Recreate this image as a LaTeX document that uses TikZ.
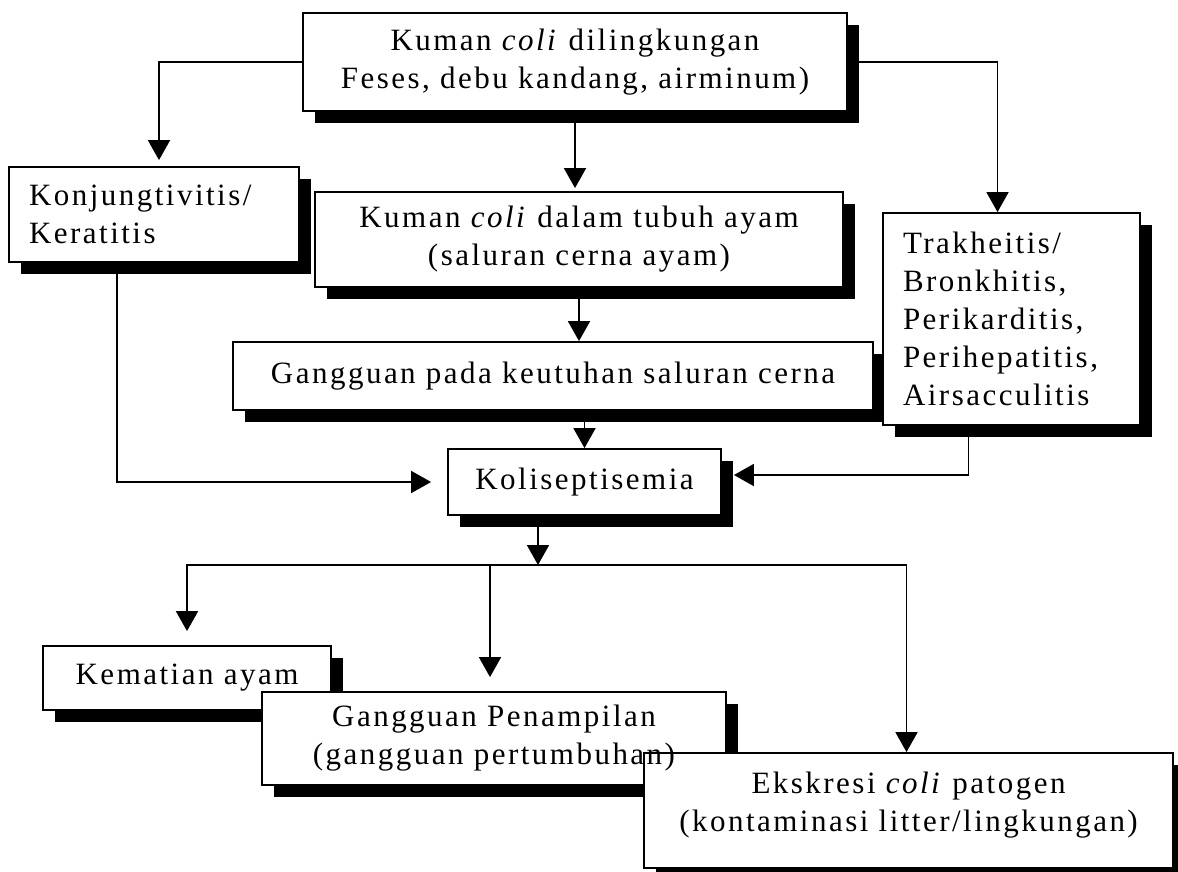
\documentclass[tikz,border=0pt]{standalone}
\usepackage{fontspec}
\setmainfont{Liberation Serif}[LetterSpace=8]
\usetikzlibrary{arrows.meta,shadows}

\begin{document}
\begin{tikzpicture}
[   x=1pt, y=-1pt,
    txt/.style={font=\fontsize{31}{38}\selectfont, align=center, inner sep=0pt},
    box/.style={txt, draw=black, fill=white, line width=1.8pt,
        drop shadow={shadow xshift=12pt, shadow yshift=-12pt, fill=black, opacity=1}},
    arr/.style={-{Triangle[length=20pt,width=22pt]}, line width=1.8pt},
]
\useasboundingbox (0,0) rectangle (1178,872);

\node[box, minimum width=544pt, minimum height=98pt] (src) at (575,62) {Kuman \textit{coli} dilingkungan\\Feses, debu kandang, airminum)};
\node[box, text width=250pt, align=left, inner xsep=20pt, minimum height=95pt] (konj) at (154,214.5) {Konjungtivitis/\\Keratitis};
\node[box, minimum width=528pt, minimum height=95pt] (dalam) at (579,239.5) {Kuman \textit{coli} dalam tubuh ayam\\(saluran cerna ayam)};
\node[box, minimum width=640pt, minimum height=68pt] (gang) at (553,376) {Gangguan pada keutuhan saluran cerna};
\node[box, text width=217pt, align=left, inner xsep=20pt, minimum height=212pt] (trak) at (1011.5,319) {Trakheitis/\\Bronkhitis,\\Perikarditis,\\Perihepatitis,\\Airsacculitis};
\node[box, minimum width=273pt, minimum height=66pt] (koli) at (584.5,482) {Koliseptisemia};
\node[box, minimum width=288pt, minimum height=64pt] (mati) at (187,678) {Kematian ayam};
\node[box, minimum width=464pt, minimum height=93pt] (tampil) at (494,738.5) {};
\node[box, minimum width=529pt, minimum height=115pt] (ekskresi) at (908.5,810.5) {};
\node[txt] (tampiltext) at (tampil) {Gangguan Penampilan\\(gangguan pertumbuhan)};
\node[txt] (ekskresitext) at (908.5,805) {Ekskresi \textit{coli} patogen\\(kontaminasi litter/lingkungan)};

\coordinate (split) at (538,565);

\draw[arr, shorten >=6pt] (src.west) -| ([xshift=5pt]konj.north);
\draw[arr, shorten >=3pt] (src.south) -- (src.south |- dalam.north);
\draw[arr] (src.east) -| ([xshift=-14pt]trak.north);
\draw[arr] (dalam.south) -- (dalam.south |- gang.north);
\draw[arr] (gang.south -| koli.north) -- (koli.north);

\draw[arr] ([xshift=-37pt]konj.south) |- ([xshift=-16pt]koli.west);
\draw[arr] ([xshift=-43pt]trak.south) |- ([xshift=12pt,yshift=7pt]koli.east);

\draw[arr] (split |- koli.south) -- (split);
\draw[arr, shorten >=14pt] (split) -| (mati.north);
\draw[arr, shorten >=14pt] (split) -| ([xshift=-4pt]tampil.north);
\draw[arr] (split) -| ([xshift=-2pt]ekskresi.north);

\end{tikzpicture}
\end{document}
